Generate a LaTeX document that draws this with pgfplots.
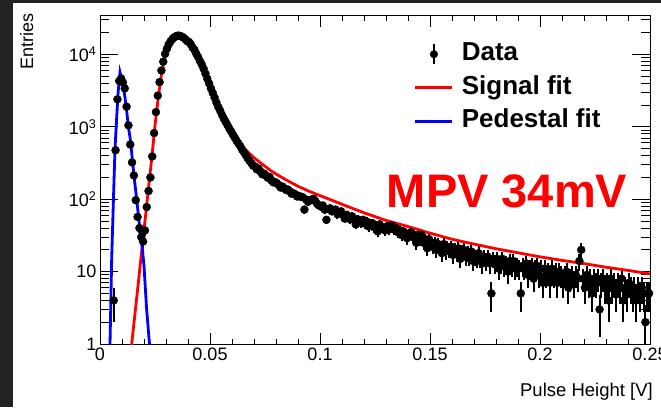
\documentclass[border=0pt]{standalone}
\usepackage{fontspec}
\setmainfont{Liberation Sans}
\usepackage{pgfplots}
\pgfplotsset{compat=1.18}
\definecolor{bgdark}{RGB}{34,34,34}
\definecolor{rootred}{RGB}{255,0,0}
\definecolor{rootblue}{RGB}{0,0,255}
\pgfplotsset{
  redleg/.style={legend image code/.code={\draw[rootred,line width=2.8pt] (0pt,0pt) -- (37pt,0pt);}},
  blueleg/.style={legend image code/.code={\draw[rootblue,line width=2.8pt] (0pt,0pt) -- (37pt,0pt);}},
  dataleg/.style={legend image code/.code={\draw[black,line width=1.8pt] (18.5pt,-10pt) -- (18.5pt,10pt); \fill[black] (18.5pt,0pt) circle (3.8pt); \path[draw=none,fill=none] (0pt,0pt) rectangle (37pt,0.1pt);}},
}
\begin{document}
\begin{tikzpicture}
\fill[white] (0pt,0pt) rectangle (661pt,407pt);
\fill[bgdark] (0pt,0pt) rectangle (13pt,407pt);
\fill[bgdark] (0pt,404pt) rectangle (661pt,407pt);
% x ticks (shorter) drawn by a frame-only axis
\begin{axis}[
  at={(100pt,63pt)}, anchor=south west,
  width=550pt, height=328pt, scale only axis,
  xmin=0, xmax=0.25,
  ymode=log, ymin=1, ymax=34000,
  axis line style={line width=1pt, black},
  every tick/.style={black, line width=0.9pt},
  tick align=inside,
  ticklabel style={font=\fontsize{18}{20}\selectfont, text=black},
  major tick length=11pt, minor tick length=5.5pt,
  xtick={0,0.05,0.1,0.15,0.2,0.25},
  xticklabels={0,0.05,0.1,0.15,0.2,0.25},
  minor xtick={0.01,0.02,0.03,0.04,0.06,0.07,0.08,0.09,0.11,0.12,0.13,0.14,0.16,0.17,0.18,0.19,0.21,0.22,0.23,0.24},
  ytick=\empty, yminorticks=false,
]
\addplot[draw=none, forget plot] coordinates {(0.1,10) (0.2,100)};
\end{axis}
% data axis with the longer y ticks
\begin{axis}[
  at={(100pt,63pt)}, anchor=south west,
  width=550pt, height=328pt, scale only axis,
  xmin=0, xmax=0.25,
  ymode=log, ymin=1, ymax=34000,
  axis line style={line width=1pt, black},
  every tick/.style={black, line width=0.9pt},
  tick align=inside,
  ticklabel style={font=\fontsize{18}{20}\selectfont, text=black},
  major tick length=18pt, minor tick length=9pt,
  xtick=\empty, xminorticks=false,
  ytick={1,10,100,1000,10000},
  yticklabels={1,10,10\textsuperscript{2},10\textsuperscript{3},10\textsuperscript{4}},
  minor ytick={2,3,4,5,6,7,8,9,20,30,40,50,60,70,80,90,200,300,400,500,600,700,800,900,2000,3000,4000,5000,6000,7000,8000,9000,20000,30000},
  legend cell align=left,
  legend style={at={(0.571,0.9216)}, anchor=north west, draw=none, fill=none,
    inner sep=0pt, outer sep=0pt, row sep=8.5pt, column sep=8pt,
    font=\fontsize{26}{28}\selectfont\bfseries,
    nodes={inner sep=0pt, text height=19pt, text depth=6pt}},
]
\addplot[only marks, mark=*, mark size=4pt, black, mark options={draw=black, fill=black}, dataleg,
  error bars/.cd, y dir=both, y explicit, error bar style={line width=1.9pt, black}, error mark=none]
  table[x=x, y=y, y error expr={sqrt(\thisrow{y})}, row sep=\\] {
x y\\
0.00625 4\\ 0.00708 475\\ 0.00792 2400\\ 0.00875 4300\\ 0.00958 4660\\ 0.01042 4100\\
0.01125 3400\\ 0.01208 1900\\ 0.01292 1050\\ 0.01375 570\\ 0.01458 323\\ 0.01542 213\\
0.01625 97\\ 0.01708 57\\ 0.01792 40\\ 0.01875 30\\ 0.01958 26\\ 0.02042 37\\
0.02125 78\\ 0.02208 130\\ 0.02292 200\\ 0.02375 390\\ 0.02458 820\\ 0.02542 1600\\
0.02625 2700\\ 0.02708 4150\\ 0.02792 6000\\ 0.02875 7960\\ 0.02958 10200\\ 0.03042 12000\\
0.03125 13800\\ 0.03208 15200\\ 0.03292 16400\\ 0.03375 17300\\ 0.03458 17900\\ 0.03542 18200\\
0.03625 18100\\ 0.03708 17700\\ 0.03792 17100\\ 0.03875 16300\\ 0.03958 15300\\ 0.04042 14900\\
0.04125 13900\\ 0.04208 12470\\ 0.04292 11590\\ 0.04375 10230\\ 0.04458 9230\\ 0.04542 8130\\
0.04625 7290\\ 0.04708 6370\\ 0.04792 5450\\ 0.04875 4630\\ 0.04958 3990\\ 0.05042 3400\\
0.05125 2950\\ 0.05208 2540\\ 0.05292 2170\\ 0.05375 1880\\ 0.05458 1680\\ 0.05542 1470\\
0.05625 1310\\ 0.05708 1180\\ 0.05792 1060\\ 0.05875 950\\ 0.05958 865\\ 0.06042 783\\
0.06125 710\\ 0.06208 644\\ 0.06292 589\\ 0.06375 541\\ 0.06458 485\\ 0.06542 446\\
0.06625 410\\ 0.06708 370\\ 0.06792 341\\ 0.06875 315\\ 0.06958 291\\ 0.07042 284\\
0.07125 259\\ 0.07208 265\\ 0.07292 242\\ 0.07375 221\\ 0.07458 226\\ 0.07542 212\\
0.07625 198\\ 0.07708 203\\ 0.07792 182\\ 0.07875 171\\ 0.07958 173\\ 0.08042 166\\
0.08125 157\\ 0.08208 145\\ 0.08292 150\\ 0.08375 142\\ 0.08458 134\\ 0.08542 136\\
0.08625 129\\ 0.08708 119\\ 0.08792 121\\ 0.08875 117\\ 0.08958 109\\ 0.09042 111\\
0.09125 108\\ 0.09208 107\\ 0.09292 72\\ 0.09375 99\\ 0.09458 92\\ 0.09542 97\\
0.09625 99\\ 0.09708 101\\ 0.09792 94\\ 0.09875 86\\ 0.09958 82\\ 0.10042 79\\
0.10125 82\\ 0.10208 72\\ 0.10292 52\\ 0.10375 73\\ 0.10458 75\\ 0.10542 68\\
0.10625 70\\ 0.10708 72\\ 0.10792 62\\ 0.10875 65\\ 0.10958 68\\ 0.11042 61\\
0.11125 54\\ 0.11208 61\\ 0.11292 58\\ 0.11375 53\\ 0.11458 58\\ 0.11542 53\\
0.11625 45\\ 0.11708 53\\ 0.11792 51\\ 0.11875 47\\ 0.11958 52\\ 0.12042 46\\
0.12125 49\\ 0.12208 42\\ 0.12292 46\\ 0.12375 47\\ 0.12458 41\\ 0.12542 43\\
0.12625 36\\ 0.12708 45\\ 0.12792 40\\ 0.12875 41\\ 0.12958 37\\ 0.13042 42\\
0.13125 38\\ 0.13208 43\\ 0.13292 43\\ 0.13375 38\\ 0.13458 40\\ 0.13542 35\\
0.13625 37\\ 0.13708 32\\ 0.13792 36\\ 0.13875 33\\ 0.13958 29\\ 0.14042 33\\
0.14125 35\\ 0.14208 30\\ 0.14292 32\\ 0.14375 25\\ 0.14458 32\\ 0.14542 28\\
0.14625 32\\ 0.14708 25\\ 0.14792 28\\ 0.14875 21\\ 0.14958 28\\ 0.15042 25\\
0.15125 22\\ 0.15208 25\\ 0.15292 20\\ 0.15375 24\\ 0.15458 22\\ 0.15542 18\\
0.15625 24\\ 0.15708 19\\ 0.15792 22\\ 0.15875 20\\ 0.15958 22\\ 0.16042 17\\
0.16125 20\\ 0.16208 18\\ 0.16292 21\\ 0.16375 15\\ 0.16458 19\\ 0.16542 20\\
0.16625 16\\ 0.16708 18\\ 0.16792 16\\ 0.16875 19\\ 0.16958 14\\ 0.17042 16\\
0.17125 15\\ 0.17208 18\\ 0.17292 15\\ 0.17375 13\\ 0.17458 16\\ 0.17542 14\\
0.17625 16\\ 0.17708 13\\ 0.17792 5\\ 0.17875 15\\ 0.17958 13\\ 0.18042 15\\
0.18125 11\\ 0.18208 13\\ 0.18292 15\\ 0.18375 12\\ 0.18458 13\\ 0.18542 10\\
0.18625 14\\ 0.18708 12\\ 0.18792 14\\ 0.18875 11\\ 0.18958 12\\ 0.19042 11\\
0.19125 5\\ 0.19208 12\\ 0.19292 11\\ 0.19375 13\\ 0.19458 9\\ 0.19542 11\\
0.19625 12\\ 0.19708 8\\ 0.19792 11\\ 0.19875 12\\ 0.19958 9\\ 0.20042 11\\
0.20125 7\\ 0.20208 11\\ 0.20292 9\\ 0.20375 10\\ 0.20458 7\\ 0.20542 11\\
0.20625 9\\ 0.20708 10\\ 0.20792 7\\ 0.20875 10\\ 0.20958 9\\ 0.21042 7\\
0.21125 9\\ 0.21208 10\\ 0.21292 6\\ 0.21375 8\\ 0.21458 9\\ 0.21542 7\\
0.21625 9\\ 0.21708 8\\ 0.21792 14\\ 0.21875 20\\ 0.21958 8\\ 0.22042 6\\
0.22125 9\\ 0.22208 7\\ 0.22292 8\\ 0.22375 5\\ 0.22458 8\\ 0.22542 7\\
0.22625 8\\ 0.22708 3\\ 0.22792 7\\ 0.22875 8\\ 0.22958 6\\ 0.23042 7\\
0.23125 4\\ 0.23208 8\\ 0.23292 6\\ 0.23375 7\\ 0.23458 5\\ 0.23542 7\\
0.23625 6\\ 0.23708 8\\ 0.23792 4\\ 0.23875 6\\ 0.23958 5\\ 0.24042 7\\
0.24125 6\\ 0.24208 5\\ 0.24292 6\\ 0.24375 4\\ 0.24458 6\\ 0.24542 5\\
0.24625 6\\ 0.24708 5\\ 0.24792 2\\ 0.24875 5\\ 0.24958 5\\
};
\addlegendentry{Data}
\addplot[rootred, line width=2.8pt, redleg] coordinates {
(0.0140,0.75) (0.0144,1) (0.0160,2.8) (0.0176,7.9) (0.0190,20) (0.0205,52) (0.0220,138)
(0.0230,263) (0.0240,513) (0.0250,1047) (0.0260,1905) (0.0270,3311) (0.0280,5495)
(0.0290,7943) (0.0300,10471) (0.0310,12589) (0.0320,14791) (0.0330,16596) (0.0340,17783)
(0.0350,18281) (0.0360,18408) (0.0370,17989) (0.0380,17179) (0.0390,16032) (0.0400,14791)
(0.0410,13490) (0.0420,12023) (0.0430,10715) (0.0440,9333) (0.0450,8128) (0.0460,7079)
(0.0470,6026) (0.0480,5012) (0.0490,4121) (0.0500,3388) (0.0515,2570) (0.0535,1778)
(0.0560,1230) (0.0590,871) (0.0623,646) (0.0660,490) (0.0697,380) (0.0735,309)
(0.0774,251) (0.0810,214) (0.0850,182) (0.0900,151) (0.0950,129) (0.1000,112)
(0.1050,98) (0.1100,85) (0.1200,65) (0.1300,51) (0.1400,42) (0.1500,34) (0.1600,28)
(0.1700,24) (0.1800,20.7) (0.1900,18.2) (0.2000,16.0) (0.2100,14.3) (0.2200,12.9)
(0.2300,11.5) (0.2400,10.4) (0.2500,9.3)
};
\addlegendentry{Signal fit}
\addplot[rootblue, line width=2.8pt, blueleg] coordinates {
(0.0044,0.7) (0.00455,1) (0.0053,14.5) (0.0061,98) (0.0068,480) (0.0076,1380) (0.0083,3160)
(0.0091,5700) (0.0098,4700) (0.0106,3550) (0.0114,2500) (0.0121,1700) (0.0129,1000)
(0.0137,700) (0.0144,440) (0.0152,250) (0.0160,150) (0.0167,98) (0.0175,58) (0.0182,37)
(0.0190,25) (0.0200,12) (0.0212,3.0) (0.0225,1) (0.0228,0.8)
};
\addlegendentry{Pedestal fit}
\end{axis}
\node[rotate=90, anchor=base east, inner sep=0pt, font=\fontsize{18}{20}\selectfont] at (33pt,394pt) {Entries};
\node[anchor=base east, inner sep=0pt, font=\fontsize{18.5}{20}\selectfont] at (653pt,10.5pt) {Pulse Height [V]};
\node[anchor=base west, inner sep=0pt, text=rootred, font=\fontsize{47}{50}\selectfont\bfseries] at (386.7pt,199pt) {MPV 34mV};
\pgfresetboundingbox
\path[use as bounding box] (0pt,0pt) rectangle (661pt,407pt);
\end{tikzpicture}
\end{document}
